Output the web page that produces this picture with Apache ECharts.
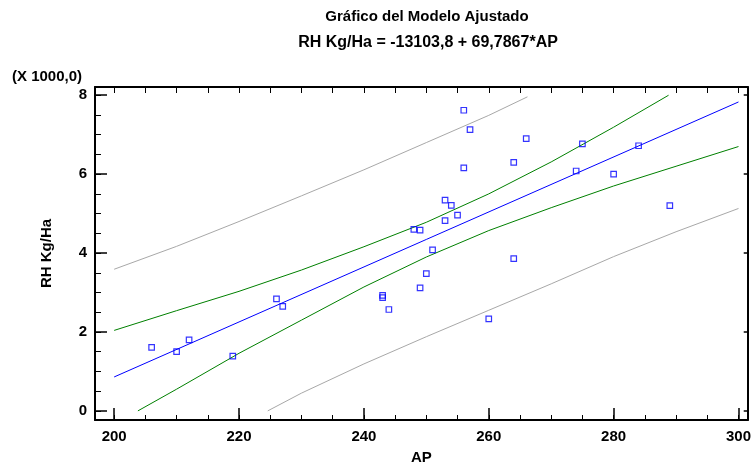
<!DOCTYPE html>
<html>
<head>
<meta charset="utf-8">
<script src="https://cdn.jsdelivr.net/npm/echarts@6/dist/echarts.min.js"></script>
<style>html,body{margin:0;padding:0;background:#fff}#c{width:754px;height:470px}</style>
</head>
<body>
<div id="c"></div>
<script>
// ---- data ----
const xTicks = [200, 220, 240, 260, 280, 300];
const xMinorTicks = [200,205,210,215,220,225,230,235,240,245,250,255,260,265,270,275,280,285,290,295,300];
const yTicks = [0, 2000, 4000, 6000, 8000];
const yMinorTicks = [0,500,1000,1500,2000,2500,3000,3500,4000,4500,5000,5500,6000,6500,7000,7500,8000];

const apValues = [206,210,212,219,226,227,243,243,244,249,250,251,248,249,253,253,254,255,256,257,256,266,264,264,260,274,275,280,284,289];
const rhValues = [1610,1500,1800,1390,2840,2650,2930,2870,2570,3120,3480,4080,4600,4580,4820,5340,5210,4960,7620,7130,6160,6900,6300,3860,2330,6080,6770,6000,6720,5200];

const fitX = [200, 300];
const fitY = [860, 7830];

const confUpperX = [200, 210, 220, 230, 240, 250, 260, 270, 280, 288.8];
const confUpperY = [2040, 2540, 3030, 3570, 4160, 4780, 5500, 6310, 7190, 8000];
const confLowerX = [203.8, 210, 220, 230, 240, 250, 260, 270, 280, 290, 300];
const confLowerY = [0, 550, 1460, 2300, 3140, 3900, 4570, 5150, 5700, 6200, 6700];

const predUpperX = [200, 210, 220, 230, 240, 250, 260, 266.2];
const predUpperY = [3590, 4170, 4800, 5450, 6110, 6800, 7490, 7960];
const predLowerX = [224.6, 230, 240, 250, 260, 270, 280, 290, 300];
const predLowerY = [0, 450, 1190, 1880, 2550, 3220, 3910, 4540, 5130];

const zip = (xs, ys) => xs.map((x, i) => [x, ys[i]]);

const FONT = "'Liberation Sans', Arial, sans-serif";
const chart = echarts.init(document.getElementById('c'), null, {renderer: 'canvas'});

const lineSeries = (xs, ys, color) => ({
  type: 'line', xAxisIndex: 0, yAxisIndex: 0,
  data: zip(xs, ys), showSymbol: false, symbol: 'none', smooth: false,
  lineStyle: {color: color, width: 1}, silent: true, animation: false, z: 2
});

const X_MIN = 196.93, X_MAX = 301.48, Y_MIN = -231, Y_MAX = 8209;
const hidden = {show: false};

chart.setOption({
  animation: false,
  backgroundColor: '#ffffff',
  grid: {left: 95, top: 87, width: 658, height: 335.5, containLabel: false},
  xAxis: [
    { type: 'value', position: 'bottom', min: X_MIN, max: X_MAX,
      name: 'AP', nameLocation: 'middle', nameGap: 30,
      nameTextStyle: {fontFamily: FONT, fontWeight: 'bold', fontSize: 15, color: '#000'},
      axisLine: {show: true, onZero: false, lineStyle: {color: '#000', width: 2}},
      axisTick: {show: true, inside: true, length: 12, customValues: xTicks, lineStyle: {color: '#000', width: 1.5}},
      axisLabel: {show: true, customValues: xTicks, margin: 9, fontFamily: FONT, fontWeight: 'bold', fontSize: 15, color: '#000'},
      splitLine: hidden },
    { type: 'value', position: 'bottom', min: X_MIN, max: X_MAX,
      axisLine: {show: false, onZero: false},
      axisTick: {show: true, inside: true, length: 5, customValues: xMinorTicks, lineStyle: {color: '#000', width: 1}},
      axisLabel: hidden, splitLine: hidden },
    { type: 'value', position: 'top', min: X_MIN, max: X_MAX,
      axisLine: {show: true, onZero: false, lineStyle: {color: '#000', width: 2}},
      axisTick: {show: true, inside: true, length: 6, customValues: xMinorTicks, lineStyle: {color: '#000', width: 1}},
      axisLabel: hidden, splitLine: hidden }
  ],
  yAxis: [
    { type: 'value', position: 'left', min: Y_MIN, max: Y_MAX,
      name: 'RH Kg/Ha', nameLocation: 'middle', nameGap: 41, nameRotate: 90,
      nameTextStyle: {fontFamily: FONT, fontWeight: 'bold', fontSize: 15, color: '#000'},
      axisLine: {show: true, onZero: false, lineStyle: {color: '#000', width: 2}},
      axisTick: {show: true, inside: true, length: 12, customValues: yTicks, lineStyle: {color: '#000', width: 1.5}},
      axisLabel: {show: true, customValues: yTicks, margin: 8, fontFamily: FONT, fontWeight: 'bold', fontSize: 15, color: '#000',
                  formatter: v => String(Math.round(v / 1000))},
      splitLine: hidden },
    { type: 'value', position: 'left', min: Y_MIN, max: Y_MAX,
      axisLine: {show: false, onZero: false},
      axisTick: {show: true, inside: true, length: 6, customValues: yMinorTicks, lineStyle: {color: '#000', width: 1}},
      axisLabel: hidden, splitLine: hidden },
    { type: 'value', position: 'right', min: Y_MIN, max: Y_MAX,
      axisLine: {show: true, onZero: false, lineStyle: {color: '#000', width: 2}},
      axisTick: {show: true, inside: true, length: 4, customValues: yTicks, lineStyle: {color: '#000', width: 1.5}},
      axisLabel: hidden, splitLine: hidden }
  ],
  graphic: [
    {type: 'text', x: 427, y: 17, style: {text: 'Gráfico del Modelo Ajustado', font: "bold 15px 'Liberation Sans', Arial, sans-serif", fill: '#000', textAlign: 'center', textVerticalAlign: 'middle'}},
    {type: 'text', x: 428, y: 43, style: {text: 'RH Kg/Ha = -13103,8 + 69,7867*AP', font: "bold 16px 'Liberation Sans', Arial, sans-serif", fill: '#000', textAlign: 'center', textVerticalAlign: 'middle'}},
    {type: 'text', x: 12, y: 77, style: {text: '(X 1000,0)', font: "bold 15px 'Liberation Sans', Arial, sans-serif", fill: '#000', textAlign: 'left', textVerticalAlign: 'middle'}}
  ],
  series: [
    lineSeries(predUpperX, predUpperY, '#a8a8a8'),
    lineSeries(predLowerX, predLowerY, '#a8a8a8'),
    lineSeries(confUpperX, confUpperY, '#008000'),
    lineSeries(confLowerX, confLowerY, '#008000'),
    lineSeries(fitX, fitY, '#0000ff'),
    { type: 'scatter', xAxisIndex: 0, yAxisIndex: 0, data: zip(apValues, rhValues),
      symbol: 'rect', symbolSize: 5.5,
      itemStyle: {color: 'rgba(255,255,255,0)', borderColor: '#0000ff', borderWidth: 1.2},
      silent: true, z: 3 }
  ]
});
</script>
</body>
</html>
